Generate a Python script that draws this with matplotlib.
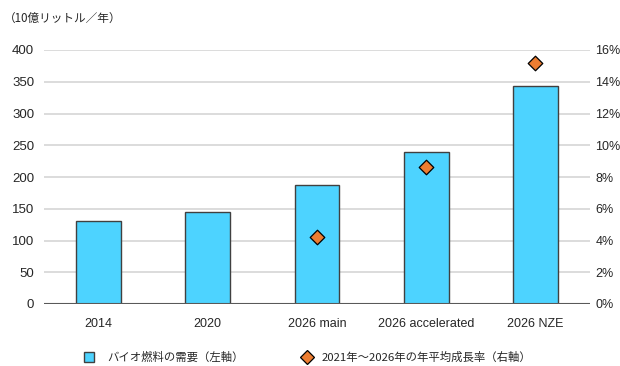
import matplotlib
matplotlib.use("Agg")
import matplotlib.pyplot as plt
from matplotlib.lines import Line2D
from matplotlib.ticker import FuncFormatter

plt.rcParams['font.family'] = ['Liberation Sans', 'Noto Sans CJK JP', 'DejaVu Sans']

categories = ["2014", "2020", "2026 main", "2026 accelerated", "2026 NZE"]
demand = [131, 145, 187, 239, 343]          # 10億リットル/年 (left axis)
growth_cats = ["2026 main", "2026 accelerated", "2026 NZE"]
growth = [4.2, 8.6, 15.2]                    # % (right axis)
legend_labels = ["バイオ燃料の需要（左軸）", "2021年～2026年の年平均成長率（右軸）"]
title_text = "（10億リットル／年）"

bar_color = "#4DD3FF"
diamond_color = "#ED7D31"
txt_color = "#262626"
cjk = ["Noto Sans CJK JP", "DejaVu Sans"]

fig = plt.figure(figsize=(6.2, 3.66), dpi=100)
ax = fig.add_axes([44/620, 62/366, 546/620, 254/366])
ax2 = ax.twinx()

x = list(range(len(categories)))
ax.bar(x, demand, width=0.41, color=bar_color, edgecolor="#404040", linewidth=1.0, zorder=3)
gx = [categories.index(c) for c in growth_cats]
ax2.scatter(gx, growth, marker="D", s=55, color=diamond_color, edgecolor="black", linewidth=0.9, zorder=5)

ax.set_xlim(-0.5, len(categories) - 0.5)
ax.set_ylim(0, 400)
ax.set_yticks(range(0, 401, 50))
ax2.set_ylim(0, 16)
ax2.set_yticks(range(0, 17, 2))
ax2.yaxis.set_major_formatter(FuncFormatter(lambda v, p: f"{int(v)}%"))

ax.set_xticks(x)
ax.set_xticklabels(categories, fontsize=9, color=txt_color)
ax.tick_params(axis="x", length=0, pad=10)
ax.tick_params(axis="y", length=0, pad=7, labelsize=9.5, labelcolor=txt_color)
ax2.tick_params(axis="y", length=0, pad=4, labelsize=9, labelcolor=txt_color)

ax.grid(axis="y", color="#D9D9D9", linewidth=1.3, zorder=0)
ax.set_axisbelow(True)
for a in (ax, ax2):
    for s in ("top", "right", "left", "bottom"):
        a.spines[s].set_visible(False)
ax.axhline(0, color="#595959", linewidth=1.5, zorder=4)

fig.text(4/620, 1 - 18/366, title_text, fontsize=8.4, color=txt_color,
         family=cjk, va="center", ha="left")

h1 = Line2D([], [], linestyle="none", marker="s", markersize=7.5, markerfacecolor=bar_color,
            markeredgecolor="#404040", markeredgewidth=1.0)
h2 = Line2D([], [], linestyle="none", marker="D", markersize=7, markerfacecolor=diamond_color,
            markeredgecolor="black", markeredgewidth=0.9)
leg_font = {"family": cjk, "size": 8.2}
for h, lab, ax0, pad in ((h1, legend_labels[0], 83, 1.15), (h2, legend_labels[1], 301, 0.8)):
    lg = fig.legend([h], [lab], loc="center left", bbox_to_anchor=(ax0/620, 1 - 357/366),
                    frameon=False, handlelength=1.0, handletextpad=pad, borderpad=0,
                    borderaxespad=0, prop=leg_font)
    for t in lg.get_texts():
        t.set_color(txt_color)

fig.savefig("out.png", dpi=100)
